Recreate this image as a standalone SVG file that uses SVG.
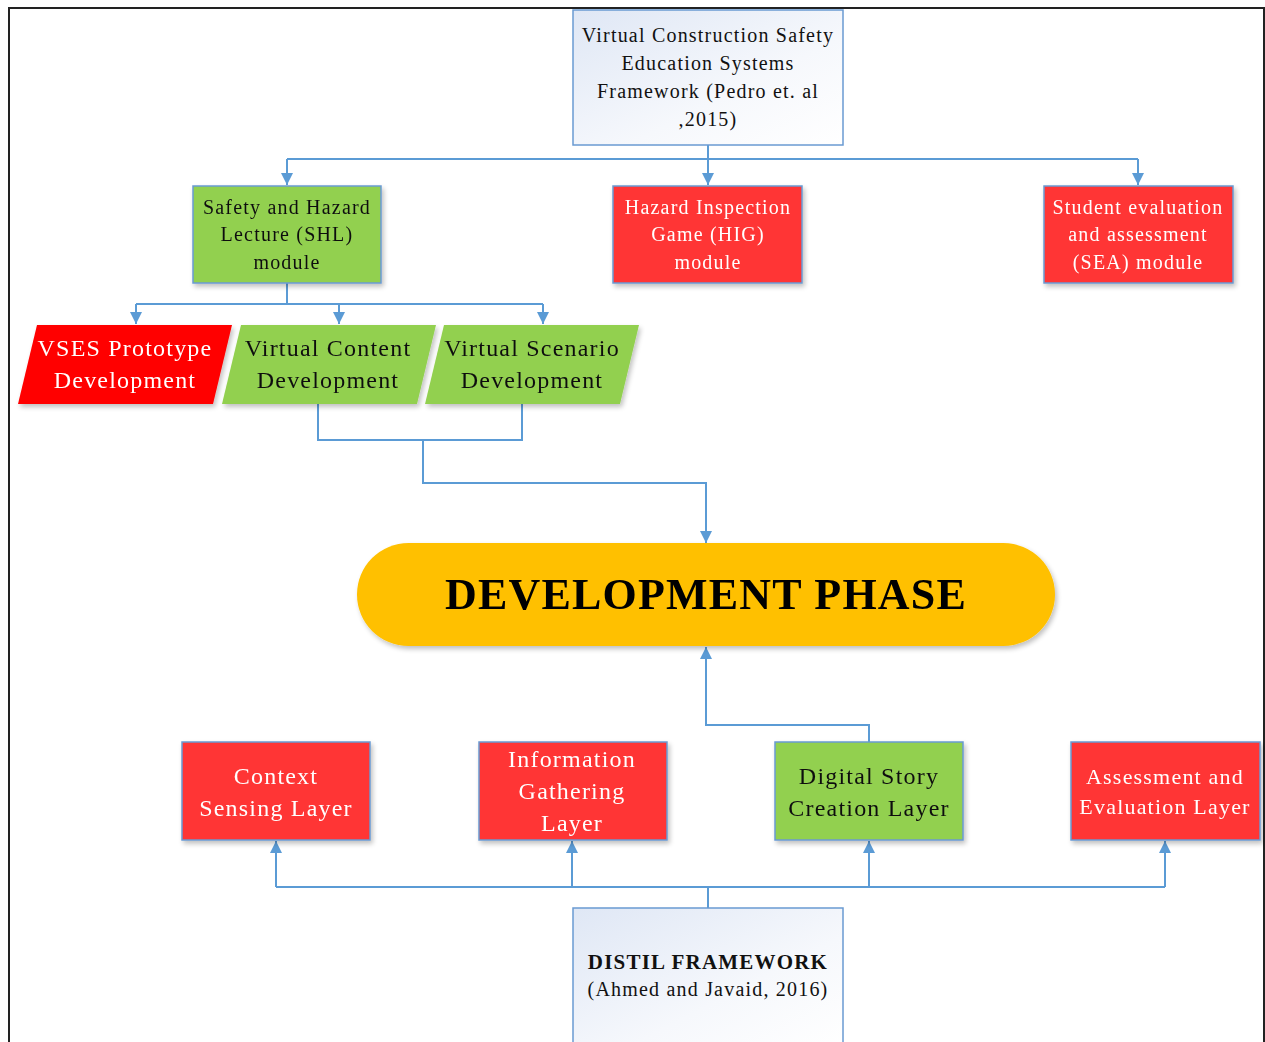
<svg xmlns="http://www.w3.org/2000/svg" width="1265" height="1042" viewBox="0 0 1265 1042">
  <defs>
    <linearGradient id="paleBlue" x1="0" y1="0" x2="1" y2="1">
      <stop offset="0" stop-color="#dfe7f5"/>
      <stop offset="0.6" stop-color="#f6f8fc"/>
      <stop offset="1" stop-color="#ffffff"/>
    </linearGradient>
    <filter id="softShadow" x="-10%" y="-10%" width="125%" height="130%">
      <feGaussianBlur in="SourceAlpha" stdDeviation="2.5"/>
      <feOffset dx="2" dy="3" result="blur"/>
      <feComponentTransfer><feFuncA type="linear" slope="0.25"/></feComponentTransfer>
      <feMerge><feMergeNode/><feMergeNode in="SourceGraphic"/></feMerge>
    </filter>
    <marker id="arrow" viewBox="0 0 10 10" refX="10" refY="5" markerWidth="6" markerHeight="6" markerUnits="strokeWidth" orient="auto">
      <path d="M0,0 L10,5 L0,10 z" fill="#5b9bd5"/>
    </marker>
  </defs>
  <style>
    text { font-family: "Liberation Serif", "Times New Roman", serif; text-anchor: middle; letter-spacing: 1.2px; }
    .frame { fill: none; stroke: #222; stroke-width: 2; }
    .link { fill: none; stroke: #5b9bd5; stroke-width: 2; }
    .box { stroke: #6a9ad2; stroke-width: 1.5; }
    .pale { fill: url(#paleBlue); }
    .green { fill: #92d050; }
    .red { fill: #ff3535; }
    .bright { fill: #ff0000; }
    .gold { fill: #ffc000; }
    .dark { fill: #111; }
    .light { fill: #ffffff; }
    .t20 { font-size: 20px; }
    .t24 { font-size: 24px; }
    .t22 { font-size: 22px; }
  </style>

  <rect width="1265" height="1042" fill="#ffffff"/>
  <!-- outer frame -->
  <path class="frame" d="M9,1042 V8 H1264 V1042"/>

  <!-- connectors -->
  <g id="connectors">
    <path class="link" d="M708,145 V159"/>
    <path class="link" d="M287,159 H1138"/>
    <path class="link" d="M287,159 V185" marker-end="url(#arrow)"/>
    <path class="link" d="M708,159 V185" marker-end="url(#arrow)"/>
    <path class="link" d="M1138,159 V185" marker-end="url(#arrow)"/>

    <path class="link" d="M287,283 V304"/>
    <path class="link" d="M136,304 H543"/>
    <path class="link" d="M136,304 V324" marker-end="url(#arrow)"/>
    <path class="link" d="M339,304 V324" marker-end="url(#arrow)"/>
    <path class="link" d="M543,304 V324" marker-end="url(#arrow)"/>

    <path class="link" d="M318,404 V440 H522 V404"/>
    <path class="link" d="M423,440 V483 H706 V543" marker-end="url(#arrow)"/>

    <path class="link" d="M869,742 V725 H706 V647" marker-end="url(#arrow)"/>

    <path class="link" d="M708,908 V887"/>
    <path class="link" d="M276,887 H1165"/>
    <path class="link" d="M276,887 V841" marker-end="url(#arrow)"/>
    <path class="link" d="M572,887 V841" marker-end="url(#arrow)"/>
    <path class="link" d="M869,887 V841" marker-end="url(#arrow)"/>
    <path class="link" d="M1165,887 V841" marker-end="url(#arrow)"/>
  </g>

  <!-- top framework -->
  <g id="vcses-framework">
    <rect class="box pale" x="573" y="10" width="270" height="135"/>
    <text class="t20 dark" x="708" y="42">Virtual Construction Safety</text>
    <text class="t20 dark" x="708" y="70">Education Systems</text>
    <text class="t20 dark" x="708" y="98">Framework (Pedro et. al</text>
    <text class="t20 dark" x="708" y="126">,2015)</text>
  </g>

  <!-- modules -->
  <g id="shl-module" filter="url(#softShadow)">
    <rect class="box green" x="193" y="186" width="188" height="97"/>
    <text class="t20 dark" x="287" y="214">Safety and Hazard</text>
    <text class="t20 dark" x="287" y="241">Lecture (SHL)</text>
    <text class="t20 dark" x="287" y="269">module</text>
  </g>
  <g id="hig-module" filter="url(#softShadow)">
    <rect class="box red" x="613" y="186" width="189" height="97"/>
    <text class="t20 light" x="708" y="214">Hazard Inspection</text>
    <text class="t20 light" x="708" y="241">Game (HIG)</text>
    <text class="t20 light" x="708" y="269">module</text>
  </g>
  <g id="sea-module" filter="url(#softShadow)">
    <rect class="box red" x="1044" y="186" width="189" height="97"/>
    <text class="t20 light" x="1138" y="214">Student evaluation</text>
    <text class="t20 light" x="1138" y="241">and assessment</text>
    <text class="t20 light" x="1138" y="269">(SEA) module</text>
  </g>

  <!-- development tracks -->
  <g id="vses-prototype" filter="url(#softShadow)">
    <polygon class="bright" points="37,325 232,325 213,404 18,404"/>
    <text class="t24 light" x="125" y="356">VSES Prototype</text>
    <text class="t24 light" x="125" y="388">Development</text>
  </g>
  <g id="virtual-content" filter="url(#softShadow)">
    <polygon class="green" points="241,325 436,325 417,404 222,404"/>
    <text class="t24 dark" x="328" y="356">Virtual Content</text>
    <text class="t24 dark" x="328" y="388">Development</text>
  </g>
  <g id="virtual-scenario" filter="url(#softShadow)">
    <polygon class="green" points="444,325 639,325 620,404 425,404"/>
    <text class="t24 dark" x="532" y="356">Virtual Scenario</text>
    <text class="t24 dark" x="532" y="388">Development</text>
  </g>

  <!-- central phase -->
  <g id="development-phase" filter="url(#softShadow)">
    <rect class="gold" x="357" y="543" width="698" height="103" rx="51.5" ry="51.5"/>
    <text x="706" y="609" font-size="44" font-weight="bold" fill="#000" letter-spacing="1">DEVELOPMENT PHASE</text>
  </g>

  <!-- DISTIL layers -->
  <g id="context-sensing" filter="url(#softShadow)">
    <rect class="box red" x="182" y="742" width="188" height="98"/>
    <text class="t24 light" x="276" y="784">Context</text>
    <text class="t24 light" x="276" y="816">Sensing Layer</text>
  </g>
  <g id="information-gathering" filter="url(#softShadow)">
    <rect class="box red" x="479" y="742" width="188" height="98"/>
    <text class="t24 light" x="572" y="767">Information</text>
    <text class="t24 light" x="572" y="799">Gathering</text>
    <text class="t24 light" x="572" y="831">Layer</text>
  </g>
  <g id="digital-story" filter="url(#softShadow)">
    <rect class="box green" x="775" y="742" width="188" height="98"/>
    <text class="t24 dark" x="869" y="784">Digital Story</text>
    <text class="t24 dark" x="869" y="816">Creation Layer</text>
  </g>
  <g id="assessment-evaluation" filter="url(#softShadow)">
    <rect class="box red" x="1071" y="742" width="189" height="98"/>
    <text class="t22 light" x="1165" y="784">Assessment and</text>
    <text class="t22 light" x="1165" y="814">Evaluation Layer</text>
  </g>

  <!-- bottom framework -->
  <g id="distil-framework">
    <rect class="box pale" x="573" y="908" width="270" height="140"/>
    <text x="708" y="969" font-size="21" font-weight="bold" fill="#111" letter-spacing="1.4">DISTIL FRAMEWORK</text>
    <text class="t20 dark" x="708" y="996">(Ahmed and Javaid, 2016)</text>
  </g>
</svg>
